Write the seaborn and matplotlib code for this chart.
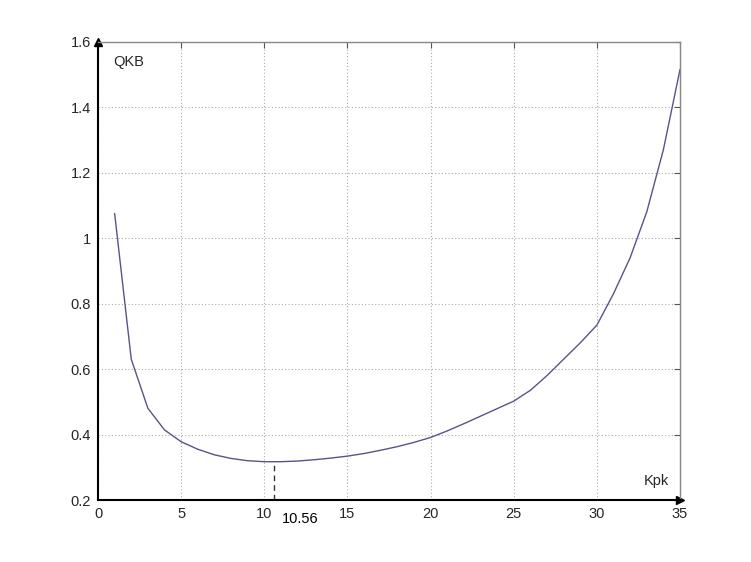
import numpy as np
import pandas as pd
import matplotlib
matplotlib.use("Agg")
import matplotlib.pyplot as plt
import seaborn as sns

# values
kpk = list(range(1, 36))
qkb = [1.075, 0.63, 0.48, 0.414, 0.378, 0.355, 0.338, 0.327, 0.320, 0.317,
       0.317, 0.319, 0.323, 0.328, 0.334, 0.342, 0.352, 0.363, 0.376, 0.391,
       0.411, 0.433, 0.456, 0.479, 0.502, 0.535, 0.58, 0.63, 0.68, 0.734,
       0.83, 0.94, 1.08, 1.27, 1.515]
k_opt = 10.56
q_opt = 0.316
x_ticks = [0, 5, 10, 15, 20, 25, 30, 35]
y_ticks = [0.2, 0.4, 0.6, 0.8, 1, 1.2, 1.4, 1.6]

df = pd.DataFrame({"Kpk": kpk, "QKB": qkb})

sns.set_style("white")
plt.rcParams['font.family'] = ['Liberation Sans', 'DejaVu Sans']

fig = plt.figure(figsize=(7.51, 5.62), dpi=100)
ax = fig.add_axes([0.1305, 0.1103, 0.775, 0.8157])

sns.lineplot(data=df, x="Kpk", y="QKB", ax=ax, color="#55558a", linewidth=1.0)

# optimum marker
ax.plot([k_opt, k_opt], [0.2, q_opt], linestyle=(0, (4, 3)), color="#333333", linewidth=1.0)
ax.annotate("10.56", xy=(k_opt, 0.2), xytext=(6, -14), textcoords="offset points",
            ha="left", va="center", fontsize=10.5, color="black", annotation_clip=False)

ax.set_xlim(0, 35)
ax.set_ylim(0.2, 1.6)
ax.set_xticks(x_ticks)
ax.set_yticks(y_ticks)
ax.set_xticklabels([str(t) for t in x_ticks])
ax.set_yticklabels(["0.2", "0.4", "0.6", "0.8", "1", "1.2", "1.4", "1.6"])
ax.set_xlabel("")
ax.set_ylabel("")

ax.grid(True, linestyle=(0, (1, 2)), color="#aaaaaa", linewidth=0.8)
ax.tick_params(direction="in", length=4, top=True, right=True, labelsize=10.5, pad=5,
               color="#555555")

for side in ["top", "right"]:
    ax.spines[side].set_color("#888888")
    ax.spines[side].set_linewidth(1.0)
for side in ["left", "bottom"]:
    ax.spines[side].set_color("black")
    ax.spines[side].set_linewidth(1.5)

# axis arrows
ax.plot(1, 0, ">k", markersize=6, transform=ax.transAxes, clip_on=False)
ax.plot(0, 1, "^k", markersize=6, transform=ax.transAxes, clip_on=False)

ax.text(0.026, 0.955, "QKB", transform=ax.transAxes, fontsize=10.5, va="center", ha="left")
ax.text(0.959, 0.042, "Kpk", transform=ax.transAxes, fontsize=10.5, va="center", ha="center")

fig.savefig("out.png", dpi=100)
